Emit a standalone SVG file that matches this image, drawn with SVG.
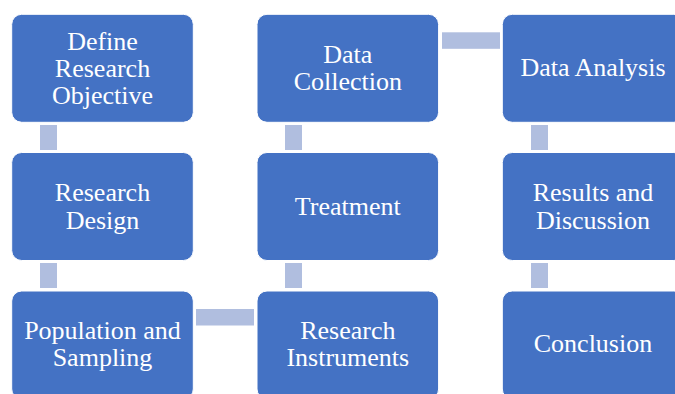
<svg xmlns="http://www.w3.org/2000/svg" width="675" height="394" viewBox="0 0 675 394">
<style>
.box{fill:#4472C4;stroke:#FFFFFF;stroke-width:1}
.con{fill:#B0BEDF}
text{font-family:"Liberation Serif","Times New Roman",serif;font-size:26px;fill:#FFFFFF;text-anchor:middle}
</style>
<rect width="675" height="394" fill="#FFFFFF"/>
<g id="connectors">
<rect class="con" x="40" y="125" width="17" height="25"/>
<rect class="con" x="40" y="263" width="17" height="25"/>
<rect class="con" x="196" y="309" width="58" height="16.5"/>
<rect class="con" x="285" y="263" width="17" height="25"/>
<rect class="con" x="285" y="125" width="17" height="25"/>
<rect class="con" x="442" y="32.3" width="58" height="16.5"/>
<rect class="con" x="531" y="125" width="17" height="25"/>
<rect class="con" x="531" y="263" width="17" height="25"/>
</g>
<g id="define">
<rect class="box" x="11.7" y="14.3" width="181.6" height="108" rx="10"/>
<text x="102.5" y="49.5">Define</text>
<text x="102.5" y="76.5">Research</text>
<text x="102.5" y="103.5">Objective</text>
</g>
<g id="design">
<rect class="box" x="11.7" y="152.5" width="181.6" height="108" rx="10"/>
<text x="102.5" y="201">Research</text>
<text x="102.5" y="228.5">Design</text>
</g>
<g id="population">
<rect class="box" x="11.7" y="291" width="181.6" height="108" rx="10"/>
<text x="102.5" y="338.5">Population and</text>
<text x="102.5" y="366">Sampling</text>
</g>
<g id="instruments">
<rect class="box" x="257" y="291" width="181.6" height="108" rx="10"/>
<text x="347.8" y="338.5">Research</text>
<text x="347.8" y="366">Instruments</text>
</g>
<g id="treatment">
<rect class="box" x="257" y="152.5" width="181.6" height="108" rx="10"/>
<text x="347.8" y="215">Treatment</text>
</g>
<g id="collection">
<rect class="box" x="257" y="14.3" width="181.6" height="108" rx="10"/>
<text x="347.8" y="62.5">Data</text>
<text x="347.8" y="89.5">Collection</text>
</g>
<g id="analysis">
<rect class="box" x="502.3" y="14.3" width="181.6" height="108" rx="10"/>
<text x="593" y="76">Data Analysis</text>
</g>
<g id="results">
<rect class="box" x="502.3" y="152.5" width="181.6" height="108" rx="10"/>
<text x="593" y="201">Results and</text>
<text x="593" y="228.5">Discussion</text>
</g>
<g id="conclusion">
<rect class="box" x="502.3" y="291" width="181.6" height="108" rx="10"/>
<text x="593" y="352">Conclusion</text>
</g>
</svg>
